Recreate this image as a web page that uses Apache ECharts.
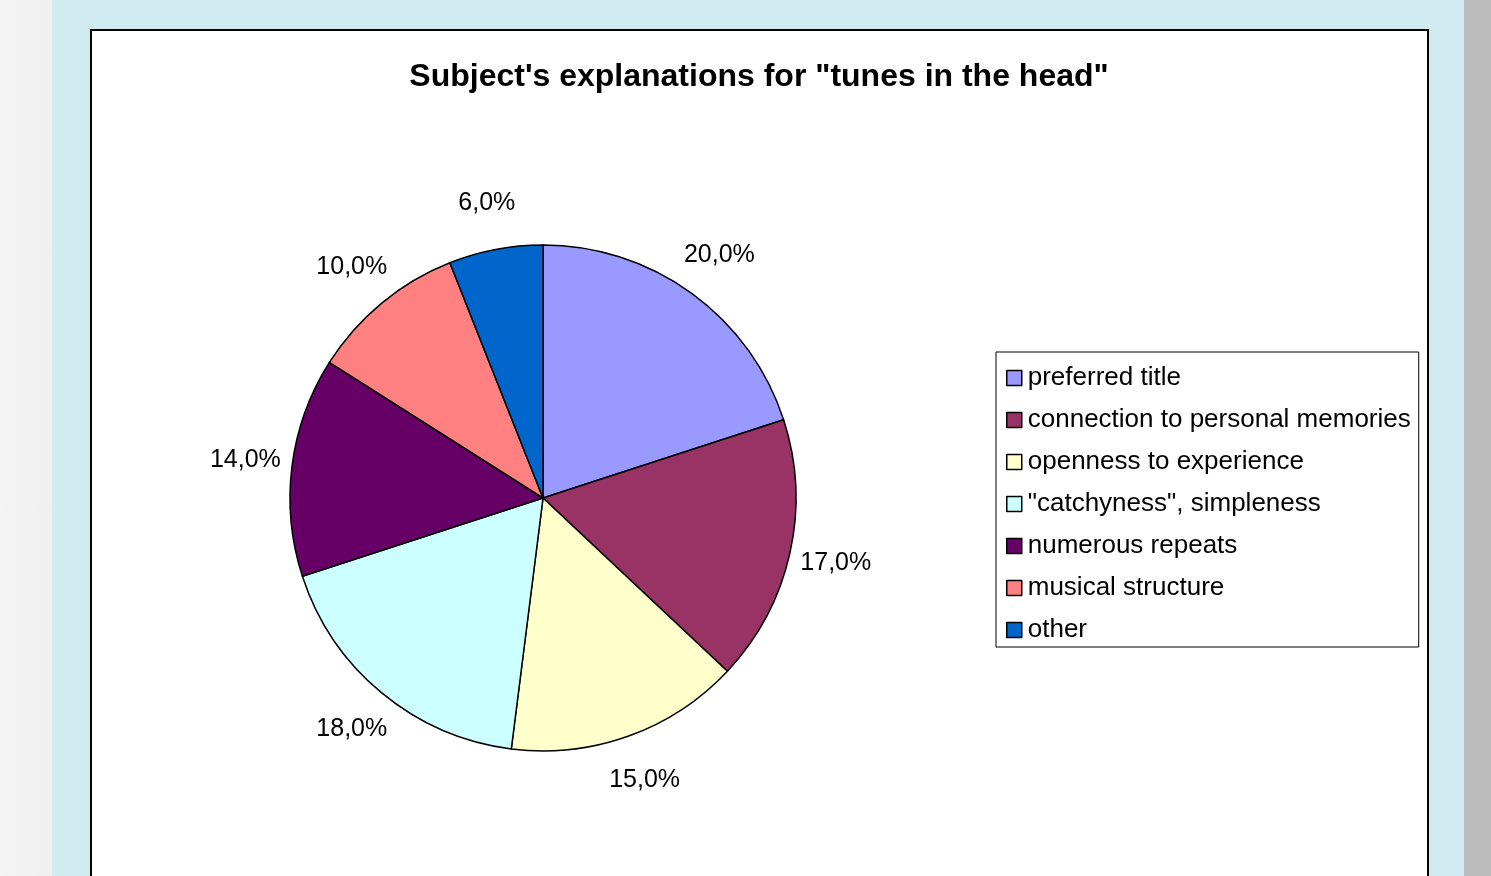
<!DOCTYPE html>
<html>
<head>
<meta charset="utf-8">
<script src="https://cdn.jsdelivr.net/npm/echarts@6/dist/echarts.min.js"></script>
<style>
  html, body { margin: 0; padding: 0; width: 1491px; height: 876px; overflow: hidden; }
  body { position: relative; background: #d1ecf1; }
  #leftStrip { position: absolute; left: 0; top: 0; width: 52px; height: 876px; background: linear-gradient(to right, #f4f4f4, #efefef); }
  #rightStrip { position: absolute; left: 1464px; top: 0; width: 27px; height: 876px; background: #bcbcbc; }
  #panel { position: absolute; left: 90px; top: 29px; width: 1335px; height: 900px; background: #fff; border: 2px solid #000; }
  #chart { position: absolute; left: 0; top: 0; width: 1491px; height: 876px; }
</style>
</head>
<body>
<div id="leftStrip"></div>
<div id="rightStrip"></div>
<div id="panel"></div>
<div id="chart"></div>
<script>
// Survey answers: share of each explanation, in percent
const categories = [
  'preferred title',
  'connection to personal memories',
  'openness to experience',
  '"catchyness", simpleness',
  'numerous repeats',
  'musical structure',
  'other'
];
const shares = [20, 17, 15, 18, 14, 10, 6];
const sliceColors = ['#9999FF', '#993366', '#FFFFCC', '#CCFFFF', '#660066', '#FF8080', '#0066CC'];

const fontFamily = '"Liberation Sans", Arial, sans-serif';
const pieCenter = [543, 498];
const pieRadius = 253;

const pieData = categories.map((name, i) => ({
  name: name,
  value: shares[i],
  itemStyle: { color: sliceColors[i] }
}));

const pctText = v => v.toFixed(1).replace('.', ',') + '%';

const chart = echarts.init(document.getElementById('chart'), null, { renderer: 'canvas' });
chart.setOption({
  backgroundColor: 'transparent',
  animation: false,
  title: {
    text: 'Subject\'s explanations for "tunes in the head"',
    left: 754,
    top: 56,
    textAlign: 'center',
    textStyle: { fontFamily: fontFamily, fontSize: 32, fontWeight: 'bold', color: '#000' }
  },
  legend: {
    orient: 'vertical',
    left: 996,
    top: 352,
    padding: [13, 8, 4, 10],
    itemGap: 16,
    itemWidth: 15,
    itemHeight: 15,
    icon: 'rect',
    backgroundColor: '#fff',
    borderColor: '#000',
    borderWidth: 1,
    data: categories,
    itemStyle: { borderColor: '#000', borderWidth: 1.5 },
    textStyle: { fontFamily: fontFamily, fontSize: 26, lineHeight: 26, color: '#000', padding: [0, 0, 0, 1] }
  },
  series: [
    {
      type: 'pie',
      center: pieCenter,
      radius: [0, pieRadius],
      startAngle: 90,
      clockwise: true,
      silent: true,
      data: pieData,
      label: { show: false },
      labelLine: { show: false },
      itemStyle: { borderColor: '#000', borderWidth: 1.5 },
      emphasis: { disabled: true }
    },
    {
      // transparent ring carrying the percentage labels just outside the pie
      type: 'pie',
      center: pieCenter,
      radius: [pieRadius, pieRadius + 88],
      startAngle: 90,
      clockwise: true,
      silent: true,
      data: categories.map((name, i) => ({ name: name, value: shares[i] })),
      itemStyle: { color: 'rgba(0,0,0,0)' },
      label: {
        show: true,
        position: 'inside',
        formatter: p => pctText(p.value),
        fontFamily: fontFamily,
        fontSize: 25,
        color: '#000'
      },
      labelLine: { show: false },
      emphasis: { disabled: true }
    }
  ]
});
</script>
</body>
</html>
